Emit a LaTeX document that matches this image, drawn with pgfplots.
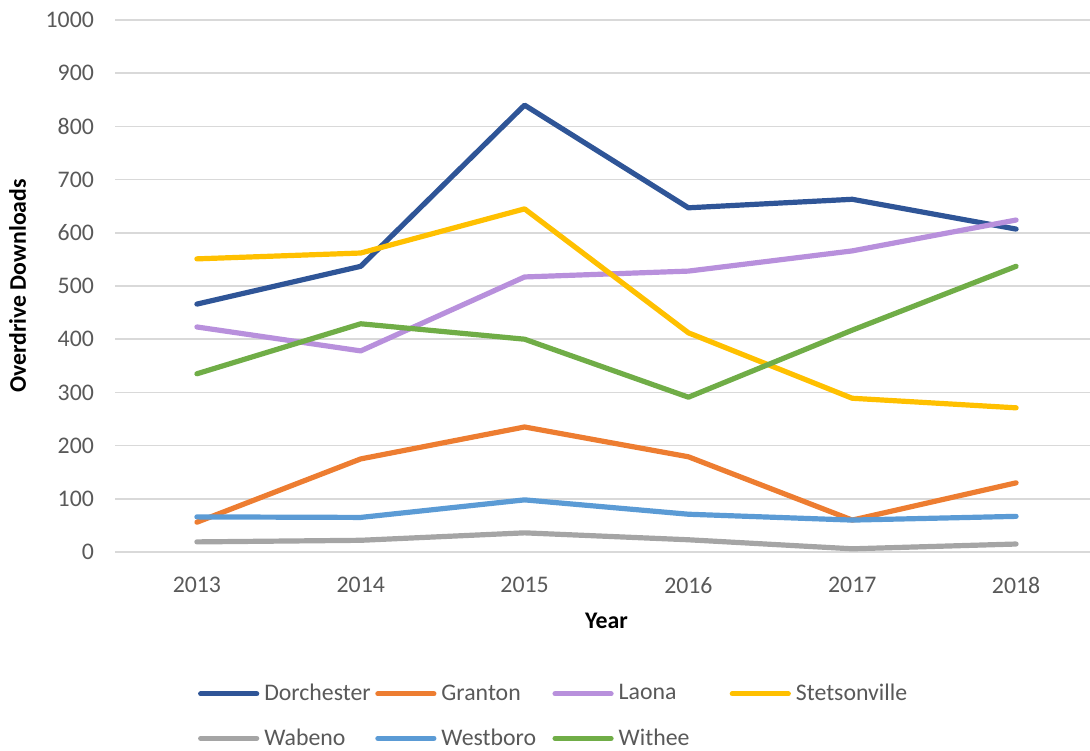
\documentclass[border=0pt]{standalone}
\usepackage{fontspec}
\setmainfont{Carlito}
\usepackage{pgfplots}
\pgfplotsset{compat=1.18}

\definecolor{cDor}{HTML}{2F5597}
\definecolor{cGra}{HTML}{ED7D31}
\definecolor{cLao}{HTML}{B890DC}
\definecolor{cSte}{HTML}{FFC000}
\definecolor{cWab}{HTML}{A5A5A5}
\definecolor{cWes}{HTML}{5B9BD5}
\definecolor{cWit}{HTML}{70AD47}
\definecolor{tickc}{HTML}{595959}
\definecolor{gridc}{HTML}{D9D9D9}

\newcommand{\lf}{\fontsize{11.9}{14.3}\selectfont}
\newcommand{\lent}[1]{\makebox[52pt][l]{#1}}

\begin{document}
\begin{tikzpicture}
\useasboundingbox (0,0) rectangle (545pt,375pt);
\begin{axis}[
    at={(57.5pt,99pt)}, anchor=south west,
    scale only axis, width=491.5pt, height=266pt,
    xmin=2012.5, xmax=2018.5,
    ymin=0, ymax=1000,
    xtick={2013,2014,2015,2016,2017,2018},
    ytick={0,100,...,1000},
    axis line style={draw=none},
    major tick length=0pt,
    xmajorgrids=false, ymajorgrids=true,
    y grid style={gridc, line width=0.75pt},
    /pgf/number format/1000 sep={},
    /pgf/number format/assume math mode=true,
    scaled y ticks=false,
    ticklabel style={font=\lf, text=tickc},
    yticklabel style={xshift=-7pt},
    xticklabel style={yshift=-9pt},
    xlabel={\textbf{Year}},
    ylabel={\textbf{Overdrive Downloads}},
    label style={font=\lf, text=black},
    xlabel style={at={(axis description cs:0.5,-0.13)}, anchor=center},
    ylabel style={at={(axis description cs:-0.099,0.5)}, anchor=center},
    legend columns=4,
    legend cell align=left,
    legend style={draw=none, font=\lf, text=tickc, at={(0.078,-0.2325)}, anchor=north west,
        /tikz/every odd column/.style={column sep=0.5pt},
        /tikz/every even column/.style={column sep=1.5pt},
        nodes={inner sep=2pt},
        row sep=8.5pt},
    legend image code/.code={\draw[#1, line cap=round] (0pt,0pt) -- (28pt,0pt);},
    every axis plot/.append style={line width=2.6pt, line join=round, line cap=round},
]
\addplot[cDor] coordinates {(2013,466) (2014,537) (2015,840) (2016,647) (2017,663) (2018,607)};
\addlegendentry{\lent{Dorchester}}
\addplot[cGra] coordinates {(2013,56) (2014,175) (2015,235) (2016,179) (2017,60) (2018,130)};
\addlegendentry{\lent{Granton}}
\addplot[cLao] coordinates {(2013,423) (2014,378) (2015,517) (2016,528) (2017,566) (2018,624)};
\addlegendentry{\lent{Laona}}
\addplot[cSte] coordinates {(2013,551) (2014,562) (2015,645) (2016,412) (2017,289) (2018,271)};
\addlegendentry{\lent{Stetsonville}}
\addplot[cWab] coordinates {(2013,19) (2014,22) (2015,36) (2016,23) (2017,6) (2018,15)};
\addlegendentry{\lent{Wabeno}}
\addplot[cWes] coordinates {(2013,66) (2014,65) (2015,98) (2016,71) (2017,60) (2018,67)};
\addlegendentry{\lent{Westboro}}
\addplot[cWit] coordinates {(2013,335) (2014,429) (2015,400) (2016,291) (2017,417) (2018,537)};
\addlegendentry{\lent{Withee}}
\end{axis}
\end{tikzpicture}
\end{document}
